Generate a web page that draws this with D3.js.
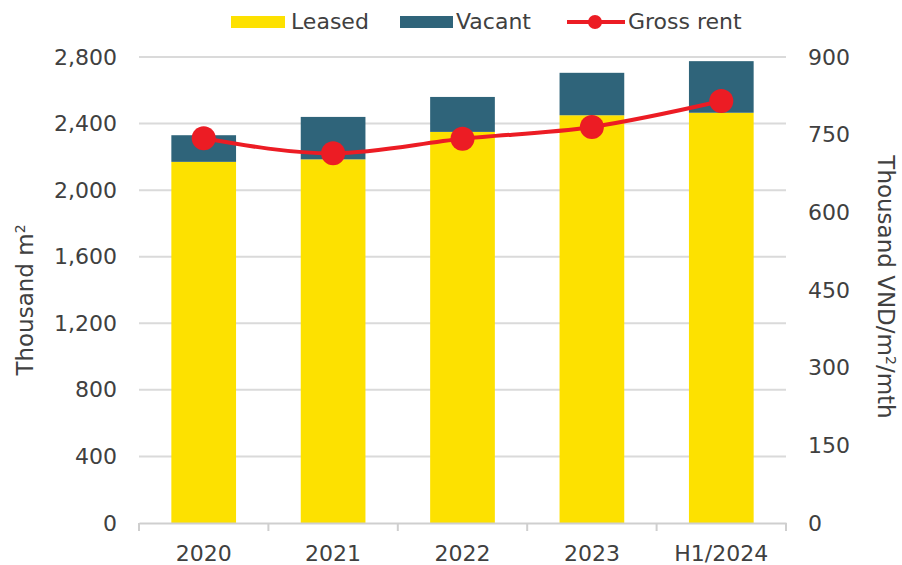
<!DOCTYPE html>
<html>
<head>
<meta charset="utf-8">
<script src="https://cdn.jsdelivr.net/npm/d3@7"></script>
<style>
  body { margin: 0; background: #fff; }
  svg text { font-family: 'DejaVu Sans', sans-serif; fill: #404040; }
</style>
</head>
<body>
<svg id="chart" width="902" height="565"></svg>
<script>
// values
var categories = ['2020', '2021', '2022', '2023', 'H1/2024']
var leased = [2170, 2185, 2350, 2450, 2465]
var vacant = [160, 255, 210, 255, 310]
var grossRent = [743, 714, 742, 765, 815]
var leftTicks = [0, 400, 800, 1200, 1600, 2000, 2400, 2800]
var rightTicks = [0, 150, 300, 450, 600, 750, 900]

var yellow = '#fde100'
var teal = '#2f647a'
var red = '#ec1c24'

var svg = d3.select('#chart')
var plotLeft = 139, plotRight = 786, plotTop = 57, plotBottom = 523

var x = d3.scaleBand()
  .domain(categories)
  .range([plotLeft, plotRight])
  .paddingInner(0.5)
  .paddingOuter(0.25)

var y = d3.scaleLinear().domain([0, 2800]).range([plotBottom, plotTop])
var y2 = d3.scaleLinear().domain([0, 900]).range([plotBottom, plotTop])

// gridlines
svg.append('g')
  .selectAll('line')
  .data(leftTicks.slice(1))
  .enter()
  .append('line')
  .attr('x1', plotLeft)
  .attr('x2', plotRight)
  .attr('y1', d => y(d))
  .attr('y2', d => y(d))
  .attr('stroke', '#dadada')
  .attr('stroke-width', 2)

// stacked bars
var rows = categories.map(function(c, i) {
  return { key: c, leased: leased[i], vacant: vacant[i] }
})
var stack = d3.stack().keys(['leased', 'vacant'])(rows)
var colors = { leased: yellow, vacant: teal }

svg.append('g')
  .selectAll('g')
  .data(stack)
  .enter()
  .append('g')
  .attr('fill', d => colors[d.key])
  .selectAll('rect')
  .data(d => d)
  .enter()
  .append('rect')
  .attr('x', d => x(d.data.key))
  .attr('y', d => y(d[1]))
  .attr('width', x.bandwidth())
  .attr('height', d => y(d[0]) - y(d[1]))

// x axis
var xAxis = svg.append('g')
  .attr('transform', 'translate(0,' + plotBottom + ')')
  .call(d3.axisBottom(x).tickSize(0).tickPadding(22))
xAxis.select('.domain').attr('stroke', '#cfcfcf').attr('stroke-width', 2)
xAxis.selectAll('text').style('font-size', '22px').attr('fill', '#404040')

// category separators
svg.append('g')
  .selectAll('line')
  .data(d3.range(categories.length + 1))
  .enter()
  .append('line')
  .attr('x1', i => plotLeft + i * (plotRight - plotLeft) / categories.length)
  .attr('x2', i => plotLeft + i * (plotRight - plotLeft) / categories.length)
  .attr('y1', plotBottom)
  .attr('y2', plotBottom + 8)
  .attr('stroke', '#cfcfcf')
  .attr('stroke-width', 2)

// left axis
var yAxis = svg.append('g')
  .attr('transform', 'translate(' + (plotLeft - 22) + ',0)')
  .call(d3.axisLeft(y).tickValues(leftTicks).tickSize(0).tickPadding(0).tickFormat(d3.format(',')))
yAxis.select('.domain').remove()
yAxis.selectAll('text').style('font-size', '22px').attr('fill', '#404040')

// right axis
var y2Axis = svg.append('g')
  .attr('transform', 'translate(' + (plotRight + 22) + ',0)')
  .call(d3.axisRight(y2).tickValues(rightTicks).tickSize(0).tickPadding(0))
y2Axis.select('.domain').remove()
y2Axis.selectAll('text').style('font-size', '22px').attr('fill', '#404040')

// gross rent line
var line = d3.line()
  .x((d, i) => x(categories[i]) + x.bandwidth() / 2)
  .y(d => y2(d))
  .curve(d3.curveMonotoneX)

svg.append('path')
  .datum(grossRent)
  .attr('d', line)
  .attr('fill', 'none')
  .attr('stroke', red)
  .attr('stroke-width', 4)

svg.append('g')
  .selectAll('circle')
  .data(grossRent)
  .enter()
  .append('circle')
  .attr('cx', (d, i) => x(categories[i]) + x.bandwidth() / 2)
  .attr('cy', d => y2(d))
  .attr('r', 12)
  .attr('fill', red)

// axis titles
svg.append('text')
  .attr('transform', 'translate(33,300) rotate(-90)')
  .attr('text-anchor', 'middle')
  .style('font-size', '23px')
  .html('Thousand m<tspan dy="-8" font-size="14">2</tspan>')

svg.append('text')
  .attr('transform', 'translate(878,287) rotate(90)')
  .attr('text-anchor', 'middle')
  .style('font-size', '23px')
  .html('Thousand VND/m<tspan dy="-8" font-size="14">2</tspan><tspan dy="8">/mth</tspan>')

// legend
var legend = svg.append('g').style('font-size', '22px')
legend.append('rect').attr('x', 231).attr('y', 16).attr('width', 54).attr('height', 12).attr('fill', yellow)
legend.append('text').attr('x', 291).attr('y', 29).text('Leased')
legend.append('rect').attr('x', 400).attr('y', 16).attr('width', 53).attr('height', 12).attr('fill', teal)
legend.append('text').attr('x', 456).attr('y', 29).text('Vacant')
legend.append('line').attr('x1', 567).attr('x2', 625).attr('y1', 22).attr('y2', 22)
  .attr('stroke', red).attr('stroke-width', 4)
legend.append('circle').attr('cx', 595).attr('cy', 22).attr('r', 7).attr('fill', red)
legend.append('text').attr('x', 628).attr('y', 29).text('Gross rent')
</script>
</body>
</html>
